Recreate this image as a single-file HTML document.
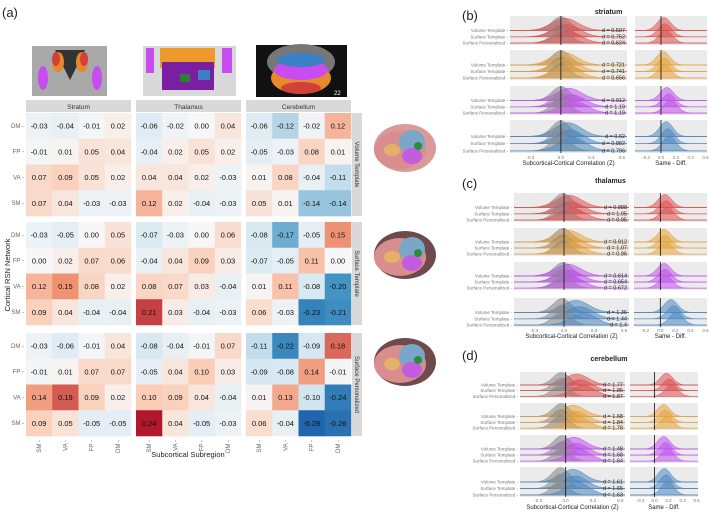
<!DOCTYPE html>
<html><head><meta charset="utf-8"><style>
body{margin:0;background:#fff;width:709px;height:513px;overflow:hidden;font-family:"Liberation Sans",sans-serif}
svg{display:block}
</style></head><body>
<svg id="fig" width="709" height="513" xmlns="http://www.w3.org/2000/svg">
<text x="2" y="17" font-size="13" fill="#222">(a)</text>
<g>
<rect x="32" y="46" width="75" height="50" fill="#a9a9a9"/><path d="M55 50 L70 80 L85 50 Z" fill="#333"/>
<ellipse cx="58" cy="62" rx="6" ry="10" fill="#e8872a"/><ellipse cx="82" cy="62" rx="6" ry="10" fill="#e8872a"/>
<ellipse cx="56" cy="59" rx="4" ry="7" fill="#d2403a"/><ellipse cx="84" cy="59" rx="4" ry="7" fill="#d2403a"/>
<ellipse cx="43" cy="78" rx="5" ry="12" fill="#c84df0"/><ellipse cx="97" cy="78" rx="5" ry="12" fill="#c84df0"/>
</g>
<g>
<rect x="143" y="46" width="93" height="50" fill="#d8d8d8"/><rect x="160" y="48" width="55" height="20" fill="#ee9a2a"/>
<rect x="162" y="62" width="52" height="28" fill="#7b1fa2"/><rect x="146" y="48" width="8" height="25" fill="#c84df0"/><rect x="222" y="48" width="10" height="25" fill="#c84df0"/>
<rect x="180" y="74" width="10" height="8" fill="#2e7d32"/><rect x="198" y="70" width="12" height="10" fill="#3b7fc4"/>
</g>
<g>
<rect x="256" y="45" width="91" height="52" fill="#111"/><ellipse cx="301" cy="62" rx="34" ry="18" fill="#777"/>
<ellipse cx="301" cy="78" rx="30" ry="16" fill="#e88a2a"/><ellipse cx="301" cy="70" rx="27" ry="10" fill="#c84df0"/>
<ellipse cx="301" cy="60" rx="24" ry="7" fill="#3b7fc4"/><ellipse cx="301" cy="88" rx="20" ry="6" fill="#d2403a"/>
<text x="334" y="95" font-size="6" fill="#fff">22</text>
</g>
<g id="heat"></g>
<g id="brains"></g>
<g id="ridges"></g>
</svg>
<script>
const NS="http://www.w3.org/2000/svg";
const svg=document.getElementById('fig');
function mk(tag,attrs,parent,text){const e=document.createElementNS(NS,tag);for(const k in attrs)e.setAttribute(k,attrs[k]);if(text!==undefined)e.textContent=text;(parent||svg).appendChild(e);return e;}

// ---------- heatmap data ----------
const regions=["Stratum","Thalamus","Cerebellum"];
const templates=["Volume Template","Surface Template","Surface Personalized"];
const rowNets=["DM","FP","VA","SM"];
const colNets=["SM","VA","FP","DM"];
const volStr=[[-0.03,-0.04,-0.01,0.02],[-0.01,0.01,0.05,0.04],[0.07,0.09,0.05,0.02],[0.07,0.04,-0.03,-0.03]];
const volThal=[[-0.06,-0.02,-0.00,0.04],[-0.04,0.02,0.05,0.02],[0.04,0.04,0.02,-0.03],[0.12,0.02,-0.04,-0.03]];
const volCer=[[-0.06,-0.12,-0.02,0.12],[-0.05,-0.03,0.08,0.01],[0.01,0.08,-0.04,-0.11],[0.05,0.01,-0.14,-0.14]];
const surfStr=[[-0.03,-0.05,0.00,0.05],[0.00,0.02,0.07,0.06],[0.12,0.15,0.08,0.02],[0.09,0.04,-0.04,-0.04]];
const surfThal=[[-0.07,-0.03,0.00,0.06],[-0.04,0.04,0.09,0.03],[0.08,0.07,0.03,-0.04],[0.21,0.03,-0.04,-0.03]];
const surfCer=[[-0.08,-0.17,-0.05,0.15],[-0.07,-0.05,0.11,0.00],[0.01,0.11,-0.08,-0.20],[0.06,-0.03,-0.23,-0.21]];
const persStr=[[-0.03,-0.06,-0.01,0.04],[-0.01,0.01,0.07,0.07],[0.14,0.19,0.09,0.02],[0.09,0.05,-0.05,-0.05]];
const persThal=[[-0.08,-0.04,-0.01,0.07],[-0.05,0.04,0.10,0.03],[0.10,0.09,0.04,-0.04],[0.24,0.04,-0.05,-0.03]];
const persCer=[[-0.11,-0.22,-0.09,0.18],[-0.09,-0.08,0.14,-0.01],[0.01,0.13,-0.10,-0.24],[0.06,-0.04,-0.28,-0.26]];
const heatData=[[volStr,volThal,volCer],[surfStr,surfThal,surfCer],[persStr,persThal,persCer]];

const colX0=[26,136,246], panelW=105;
const rowY0=[113,222,333], panelH=103;
const stops=[[-0.28,[33,102,172]],[-0.2,[67,147,195]],[-0.1,[209,229,240]],[0,[247,247,247]],[0.1,[250,205,182]],[0.15,[239,145,115]],[0.24,[178,24,43]]];
function colorOf(v){if(v<=stops[0][0])return 'rgb('+stops[0][1]+')';for(let i=1;i<stops.length;i++){if(v<=stops[i][0]){const a=stops[i-1],b=stops[i];const t=(v-a[0])/(b[0]-a[0]);return 'rgb('+a[1].map((c,j)=>Math.round(c+(b[1][j]-c)*t)).join(',')+')';}}return 'rgb('+stops[stops.length-1][1]+')';}
const heat=document.getElementById('heat');
regions.forEach((r,ci)=>{
  const s=mk('rect',{x:colX0[ci],y:100,width:panelW,height:12,fill:'#d9d9d9'},heat);
  
  
  mk('text',{x:colX0[ci]+panelW/2,y:109,'font-size':6.5,'text-anchor':'middle',fill:'#333'},heat,r);
});
templates.forEach((t,ti)=>{
  const st=mk('rect',{x:352,y:rowY0[ti],width:10,height:panelH,fill:'#d9d9d9'},heat);
  
  
  mk('text',{x:357,y:rowY0[ti]+panelH/2,'font-size':6,'text-anchor':'middle',fill:'#333',transform:'rotate(90 357 '+(rowY0[ti]+panelH/2)+')',dy:2},heat,t);
  rowNets.forEach((rn,ri)=>{
    mk('text',{x:24,y:rowY0[ti]+(ri+0.5)*panelH/4+2,'font-size':6,'text-anchor':'end',fill:'#666'},heat,rn+' -');
  });
  regions.forEach((r,ci)=>{
    const M=heatData[ti][ci];
    const cw=panelW/4, ch=panelH/4;
    M.forEach((row,ri)=>row.forEach((v,cj)=>{
      const x=colX0[ci]+cj*cw, y=rowY0[ti]+ri*ch;
      const c=mk('rect',{x:x,y:y,width:cw+0.3,height:ch+0.3,fill:colorOf(v)},heat);
      
      
      mk('text',{x:x+cw/2,y:y+ch/2+2.7,'font-size':7.5,'text-anchor':'middle',fill:'#111'},heat,v.toFixed(2));
    }));
  });
});
regions.forEach((r,ci)=>{colNets.forEach((cn,cj)=>{const x=colX0[ci]+(cj+0.5)*panelW/4;
  mk('text',{x:x,y:440,'font-size':6,'text-anchor':'end',fill:'#666',transform:'rotate(-90 '+x+' 440)',dy:2},heat,cn+' -');});});
const xl=mk('text',{x:188,y:457,'font-size':7.5,'text-anchor':'middle',fill:'#222'},heat,'Subcortical Subregion');

const yl=mk('text',{x:10,y:275,'font-size':7.5,'text-anchor':'middle',fill:'#222',transform:'rotate(-90 10 275)'},heat,'Cortical RSN Network');


// brains
const brains=document.getElementById('brains');
[148,255,362].forEach((cy,i)=>{
  const g=mk('g',{},brains);
  
  
  mk('ellipse',{cx:405,cy:cy,rx:31,ry:24,fill:i==0?'#d99a9a':'#6e4a4a'},g);
  mk('ellipse',{cx:400,cy:cy+2,rx:26,ry:19,fill:'#d98e8e'},g);
  mk('ellipse',{cx:412,cy:cy-6,rx:13,ry:12,fill:'#7aa6c8'},g);
  mk('ellipse',{cx:412,cy:cy+8,rx:10,ry:8,fill:'#c45ce0'},g);
  mk('ellipse',{cx:392,cy:cy+2,rx:8,ry:6,fill:'#e6b06a'},g);
  mk('ellipse',{cx:418,cy:cy-2,rx:4,ry:4,fill:'#2e8b3e'},g);
});

// ---------- ridge data ----------
const ridgeTitles=["striatum","thalamus","cerebellum"];
const panelLetters=["(b)","(c)","(d)"];
const rowLabels=["Volume Template","Surface Template","Surface Personalized"];
const dStriatum=[[0.597,0.752,0.624],[0.721,0.741,0.656],[0.912,1.19,1.19],[0.62,0.882,0.796]];
const dThalamus=[[0.888,1.05,0.95],[0.912,1.07,0.96],[0.614,0.654,0.672],[1.36,1.44,1.4]];
const dCerebellum=[[1.77,1.85,1.87],[1.68,1.84,1.78],[1.48,1.68,1.64],[1.61,1.65,1.63]];
const sameMeanStriatum=[0.04,0.03,0.08,0.07];
const sameMeanThalamus=[0.05,0.04,0.04,0.12];
const sameMeanCerebellum=[0.12,0.08,0.09,0.08];
const diffMeanStriatum=[0.0,0.0,0.0,0.0];
const diffMeanThalamus=[-0.01,-0.01,-0.01,-0.02];
const diffMeanCerebellum=[-0.05,-0.05,-0.04,-0.06];
const dAll=[dStriatum,dThalamus,dCerebellum];
const sameAll=[sameMeanStriatum,sameMeanThalamus,sameMeanCerebellum];
const diffAll=[diffMeanStriatum,diffMeanThalamus,diffMeanCerebellum];
const leftTicks=[-0.3,0.0,0.3,0.6];
const rightTicks=[-0.2,0.0,0.2,0.4,0.6];
const netColors=["#dc5050","#e8a23a","#c050ec","#4a86c0"];

const layout=[
 {title:14,letterY:20,lx:[510,627],rx:[635,707],groups:[[16,45],[50,80],[86,115],[120,153]],tickY:159,labY:165},
 {title:183,letterY:188,lx:[514,629],rx:[634,707],groups:[[193,222],[228,256],[262,290],[298,327]],tickY:332,labY:338},
 {title:361,letterY:360,lx:[520,625],rx:[630,698],groups:[[372,398],[403,430],[435,463],[467,497]],tickY:502,labY:509}
];
const ridges=document.getElementById('ridges');
function xs(v,dom,rng){return rng[0]+(v-dom[0])/(dom[1]-dom[0])*(rng[1]-rng[0]);}
const LD=[-0.5,0.65], RD=[-0.35,0.62];
function curve(g,mean,sd,dom,rng,base,h,fill,op){
  let d='M'+rng[0]+' '+base;
  for(let i=0;i<=60;i++){const v=dom[0]+(dom[1]-dom[0])*i/60;const y=base-h*Math.exp(-0.5*Math.pow((v-mean)/sd,2));d+=' L'+xs(v,dom,rng).toFixed(1)+' '+y.toFixed(1);}
  d+=' L'+rng[1]+' '+base+' Z';
  mk('path',{d:d,fill:fill,'fill-opacity':op,stroke:fill,'stroke-width':0.5},g);
}
layout.forEach((L,p)=>{
  const P=mk('g',{},ridges);
  
  
  mk('text',{x:462,y:L.letterY,'font-size':13,fill:'#222'},P,panelLetters[p]);
  mk('text',{x:(L.lx[0]+L.rx[1])/2,y:L.title,'font-size':7,'font-weight':'bold','text-anchor':'middle',fill:'#222'},P,ridgeTitles[p]);
  L.groups.forEach((gr,gi)=>{
    const G=mk('g',{},P);
    
    
    mk('rect',{x:L.lx[0],y:gr[0],width:L.lx[1]-L.lx[0],height:gr[1]-gr[0],fill:'#ebebeb'},G);
    mk('rect',{x:L.rx[0],y:gr[0],width:L.rx[1]-L.rx[0],height:gr[1]-gr[0],fill:'#ebebeb'},G);
    const hh=gr[1]-gr[0], step=hh/4.6;
    for(let r=0;r<3;r++){
      const base=gr[0]+hh*0.5+r*step;
      const col=netColors[gi];
      const sm=sameAll[p][gi]*(1+0.3*r), dm=diffAll[p][gi];
      mk('line',{x1:L.lx[0],x2:L.lx[1],y1:base,y2:base,stroke:col,'stroke-width':0.7},G);
      curve(G,dm,0.09,LD,L.lx,base,hh*0.48,'#8c8c8c',0.6);
      curve(G,sm,0.13,LD,L.lx,base,hh*0.42,col,0.55);
      mk('line',{x1:L.rx[0],x2:L.rx[1],y1:base,y2:base,stroke:col,'stroke-width':0.7},G);
      curve(G,sm-dm,0.09,RD,L.rx,base,hh*0.45,col,0.55);
      mk('text',{x:L.lx[0]-2,y:base+1.5,'font-size':4.5,'text-anchor':'end',fill:'#777'},G,rowLabels[r]+' -');
      mk('text',{x:L.lx[1]-2,y:base+1.5,'font-size':5.5,'text-anchor':'end',fill:'#222'},G,'d = '+dAll[p][gi][r]);
    }
    mk('line',{x1:xs(0,LD,L.lx),x2:xs(0,LD,L.lx),y1:gr[0],y2:gr[1],stroke:'#111','stroke-width':0.8},G);
    mk('line',{x1:xs(0,RD,L.rx),x2:xs(0,RD,L.rx),y1:gr[0],y2:gr[1],stroke:'#111','stroke-width':0.8},G);
  });
  leftTicks.forEach(t=>mk('text',{x:xs(t,LD,L.lx),y:L.tickY,'font-size':4.5,'text-anchor':'middle',fill:'#777'},P,t.toFixed(1)));
  rightTicks.forEach(t=>mk('text',{x:xs(t,RD,L.rx),y:L.tickY,'font-size':4.5,'text-anchor':'middle',fill:'#777'},P,t.toFixed(1)));
  mk('text',{x:(L.lx[0]+L.lx[1])/2,y:L.labY,'font-size':6,'text-anchor':'middle',fill:'#222'},P,'Subcortical-Cortical Correlation (Z)');
  mk('text',{x:(L.rx[0]+L.rx[1])/2,y:L.labY,'font-size':6,'text-anchor':'middle',fill:'#222'},P,'Same - Diff.');
});
</script>
</body></html>
